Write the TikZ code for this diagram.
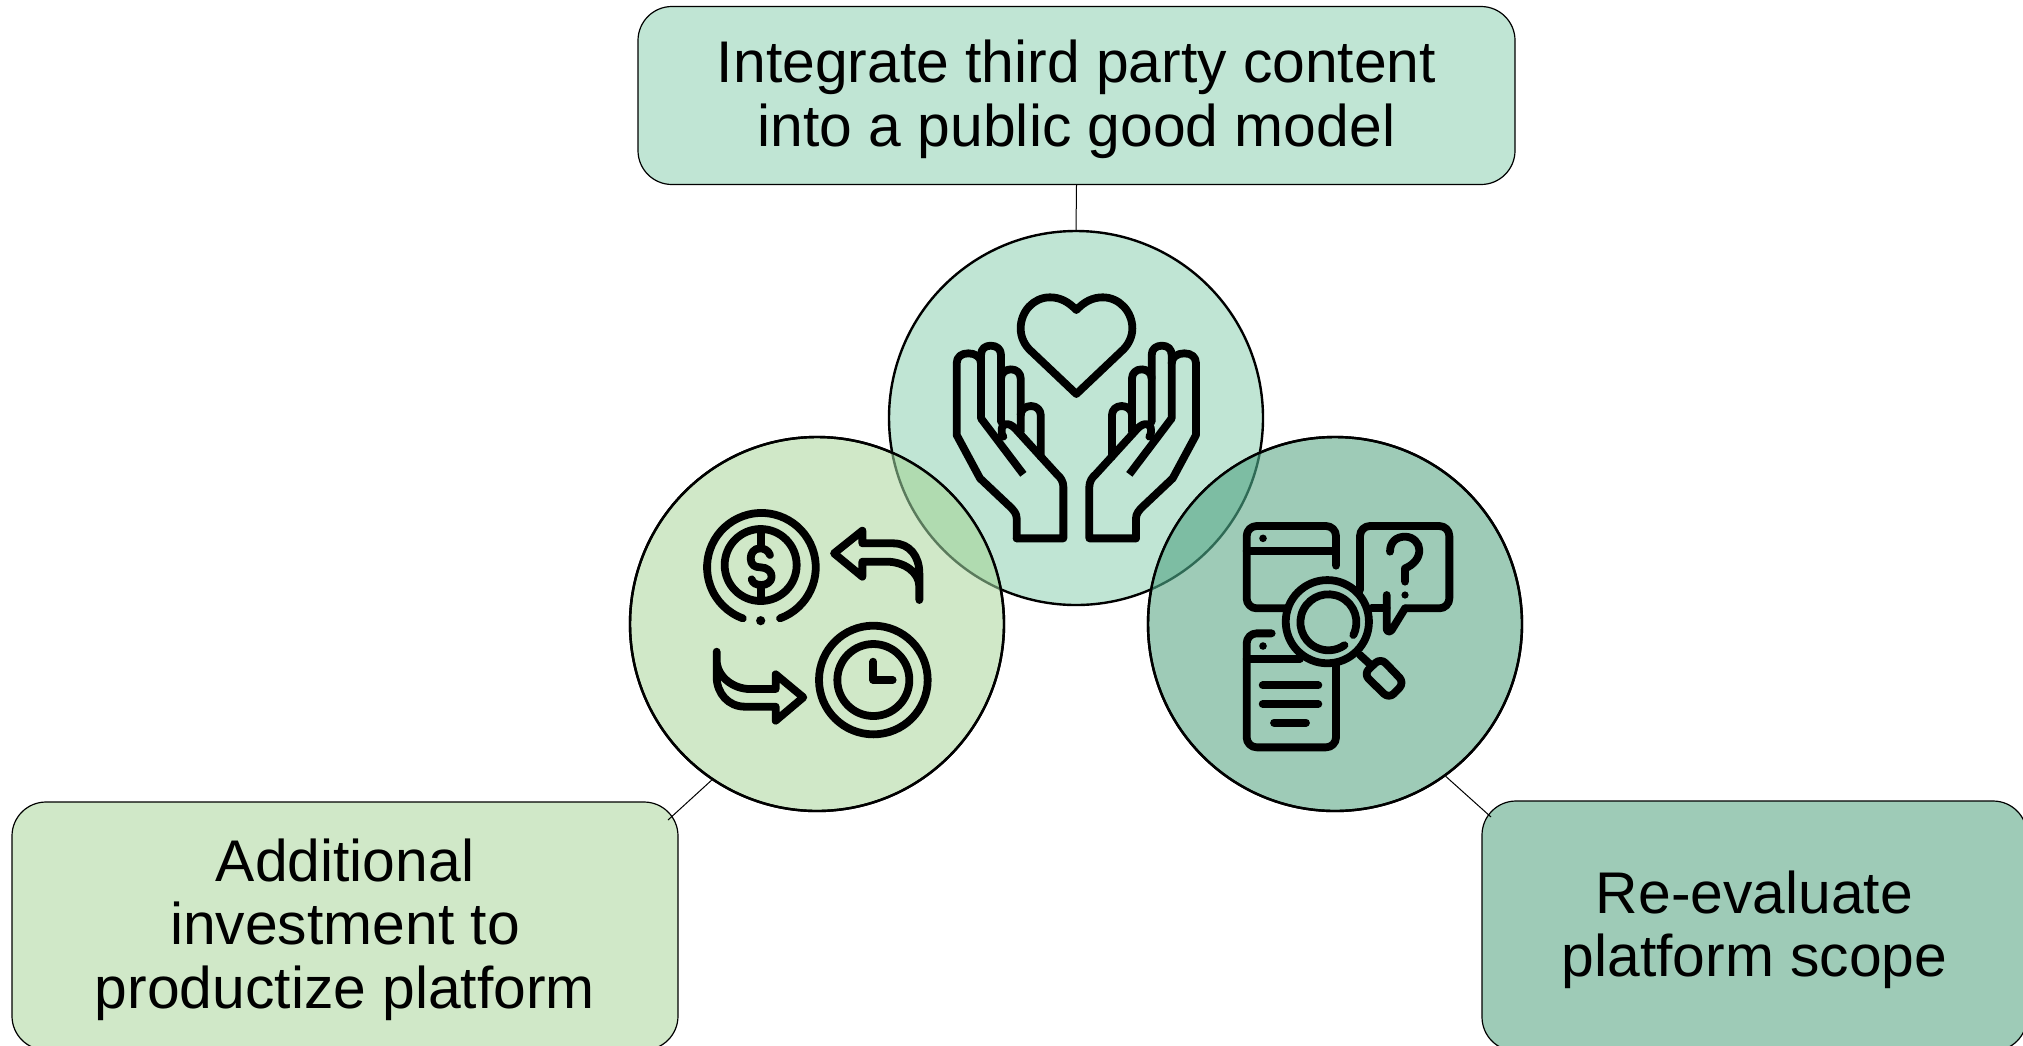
\documentclass[tikz,border=0pt]{standalone}
\usepackage{fontspec}
\setmainfont{Liberation Sans}
\definecolor{cTop}{HTML}{C0E5D4}
\definecolor{cLeft}{HTML}{D0E8C8}
\definecolor{cRight}{HTML}{9ECBB7}
\definecolor{cTL}{HTML}{B0DBB0}
\definecolor{cTR}{HTML}{7DBDA3}
\definecolor{dimTL}{HTML}{5A7A5C}
\definecolor{dimTR}{HTML}{2F6A55}
\newcommand{\lift}{\rule{0pt}{25pt}}
\tikzset{
  txtbox/.style={draw=black,line width=.6pt,rectangle,rounded corners=17pt,align=center,inner sep=0pt,font=\fontsize{29.4pt}{31.6pt}\selectfont},
  disc/.style={circle,inner sep=0pt,minimum size=187pt,line width=1.2pt,draw=black},
  link/.style={draw=black,line width=.5pt},
  ico/.style={line width=3.9pt,line cap=round,line join=round,draw=black,fill=none},
  zoomed/.style={x=.16667pt,y=-.16667pt}
}
\newcommand{\handpath}{
  \draw[ico] (350,775) -- (490,775) -- (490,620) .. controls (490,605) and (482,592) .. (470,582) -- (345,445) .. controls (325,425) and (305,430) .. (305,450) .. controls (305,460) and (305,465) .. (310,470);
  \draw[ico,line cap=butt] (243,415) -- (370,583);
  \draw[ico] (350,775) -- (350,715) .. controls (350,700) and (340,690) .. (330,680) -- (240,595) -- (170,465) -- (170,250) .. controls (170,230) and (185,220) .. (205,220) .. controls (225,220) and (243,230) .. (243,250) -- (243,415);
  \draw[ico] (243,250) -- (243,225) .. controls (243,207) and (255,197) .. (272,197) .. controls (290,197) and (303,207) .. (303,225) -- (303,425);
  \draw[ico] (303,295) .. controls (303,278) and (318,268) .. (333,268) .. controls (350,268) and (362,280) .. (362,295) -- (362,455);
  \draw[ico] (362,405) .. controls (362,388) and (378,378) .. (393,378) .. controls (410,378) and (422,390) .. (422,405) -- (422,530);
}
\begin{document}
\begin{tikzpicture}[x=.5pt,y=-.5pt]
\useasboundingbox (0,0) rectangle (2023,1045);
\node[disc,fill=cTop] (ct) at (1076,418) {};
\node[disc,fill=cLeft] (cl) at (817,624) {};
\node[disc,fill=cRight] (cr) at (1335,624) {};
\begin{scope}
  \clip (817,624) circle[radius=93.5pt];
  \fill[cTL] (1076,418) circle[radius=93.5pt];
  \draw[dimTL,line width=1.2pt] (1076,418) circle[radius=93.5pt];
\end{scope}
\begin{scope}
  \clip (1335,624) circle[radius=93.5pt];
  \fill[cTR] (1076,418) circle[radius=93.5pt];
  \draw[dimTR,line width=1.2pt] (1076,418) circle[radius=93.5pt];
\end{scope}
\draw[line width=1.2pt] (817,624) circle[radius=93.5pt];
\draw[line width=1.2pt] (1335,624) circle[radius=93.5pt];

\node[txtbox,fill=cTop,minimum width=438.5pt,minimum height=89pt] (bt) at (1076.5,95.5) {\lift Integrate third party content\\into a public good model};
\node[txtbox,fill=cLeft,minimum width=333pt,minimum height=124pt] (bl) at (345,926) {\lift Additional\\investment to\\productize platform};
\node[txtbox,fill=cRight,minimum width=272.5pt,minimum height=125pt] (br) at (1754.5,926) {\lift Re-evaluate\\platform scope};

\coordinate (el) at (668,820);
\coordinate (er) at (1491,817);
\draw[link] (bt.south) -- (ct.north);
\draw[link] (el) -- (cl.236);
\draw[link] (cr.306.4) -- (er);

% hands
\begin{scope}[shift={(900,280)},zoomed]
  \draw[ico] (529,90) .. controls (505,65) and (480,52) .. (450,52) .. controls (400,52) and (362,95) .. (362,145) .. controls (362,170) and (372,195) .. (395,215) -- (529,342) -- (663,215) .. controls (686,195) and (697,170) .. (697,145) .. controls (697,95) and (658,52) .. (608,52) .. controls (578,52) and (553,65) .. (529,90) -- cycle;
  \handpath
\end{scope}
\begin{scope}[shift={(1252.67,280)},x=-.16667pt,y=-.16667pt]
  \handpath
\end{scope}

% money and time
\begin{scope}[shift={(680,490)},zoomed]
  \draw[ico] (300,385) arc[start angle=-70,end angle=250,radius=27.17pt];
  \draw[ico] (242,225) circle[radius=18pt];
  \draw[ico,line cap=butt] (242,130) -- (242,175);
  \draw[ico,line cap=butt] (242,285) -- (242,330);
  \draw[ico] (270,195) .. controls (265,180) and (250,175) .. (240,175) .. controls (222,175) and (212,190) .. (212,205) .. controls (212,225) and (225,232) .. (242,232) .. controls (262,232) and (275,245) .. (275,260) .. controls (275,275) and (260,285) .. (245,285) .. controls (230,285) and (218,280) .. (215,268);
  \fill (242,392) circle[radius=2.3pt];
  \draw[ico] (718,330) -- (718,250) .. controls (718,200) and (690,160) .. (640,160) -- (547,160) -- (547,122) -- (462,190) -- (547,260) -- (547,215) -- (620,215) .. controls (670,215) and (718,245) .. (718,290);
  \draw[ico] (110,485) -- (110,560) .. controls (110,610) and (145,650) .. (195,650) -- (287,650) -- (287,692) -- (370,622) -- (287,553) -- (287,597) -- (210,597) .. controls (160,597) and (110,560) .. (110,510);
  \draw[ico] (580,570) circle[radius=27.17pt];
  \draw[ico] (580,570) circle[radius=18pt];
  \draw[ico] (580,515) -- (580,570) -- (638,570);
\end{scope}

% search
\begin{scope}[shift={(1220,500)},zoomed]
  \draw[ico,rounded corners=5pt] (348,197) -- (348,78) -- (80,78) -- (80,325) -- (200,325);
  \draw[ico] (80,152) -- (348,152);
  \fill (129,115) circle[radius=1.9pt];
  \draw[ico,rounded corners=5pt] (420,270) -- (420,78) -- (688,78) -- (688,325) -- (555,325);
  \draw[ico] (555,325) -- (515,390) .. controls (508,398) and (500,395) .. (500,385) -- (500,285);
  \draw[ico] (455,325) -- (500,325);
  \draw[ico] (510,155) .. controls (510,125) and (530,110) .. (555,110) .. controls (580,110) and (598,130) .. (598,150) .. controls (598,175) and (580,195) .. (555,205) -- (555,245);
  \fill (555,285) circle[radius=1.8pt];
  \draw[ico] (322,365) circle[radius=20.8pt];
  \draw[ico] (400,405) arc[start angle=-27,end angle=305,radius=14pt];
  \draw[ico] (420,465) -- (455,497);
  \draw[ico,rounded corners=3.5pt] (431,522) -- (482,474) -- (553,548) -- (507,596) -- cycle;
  \draw[ico,rounded corners=5pt] (155,400) -- (80,400) -- (80,742) -- (348,742) -- (348,490);
  \draw[ico] (80,476) -- (240,476);
  \fill (129,438) circle[radius=1.9pt];
  \draw[ico] (128,556) -- (295,556);
  \draw[ico] (128,612) -- (295,612);
  \draw[ico] (162,668) -- (258,668);
\end{scope}
\end{tikzpicture}
\end{document}
